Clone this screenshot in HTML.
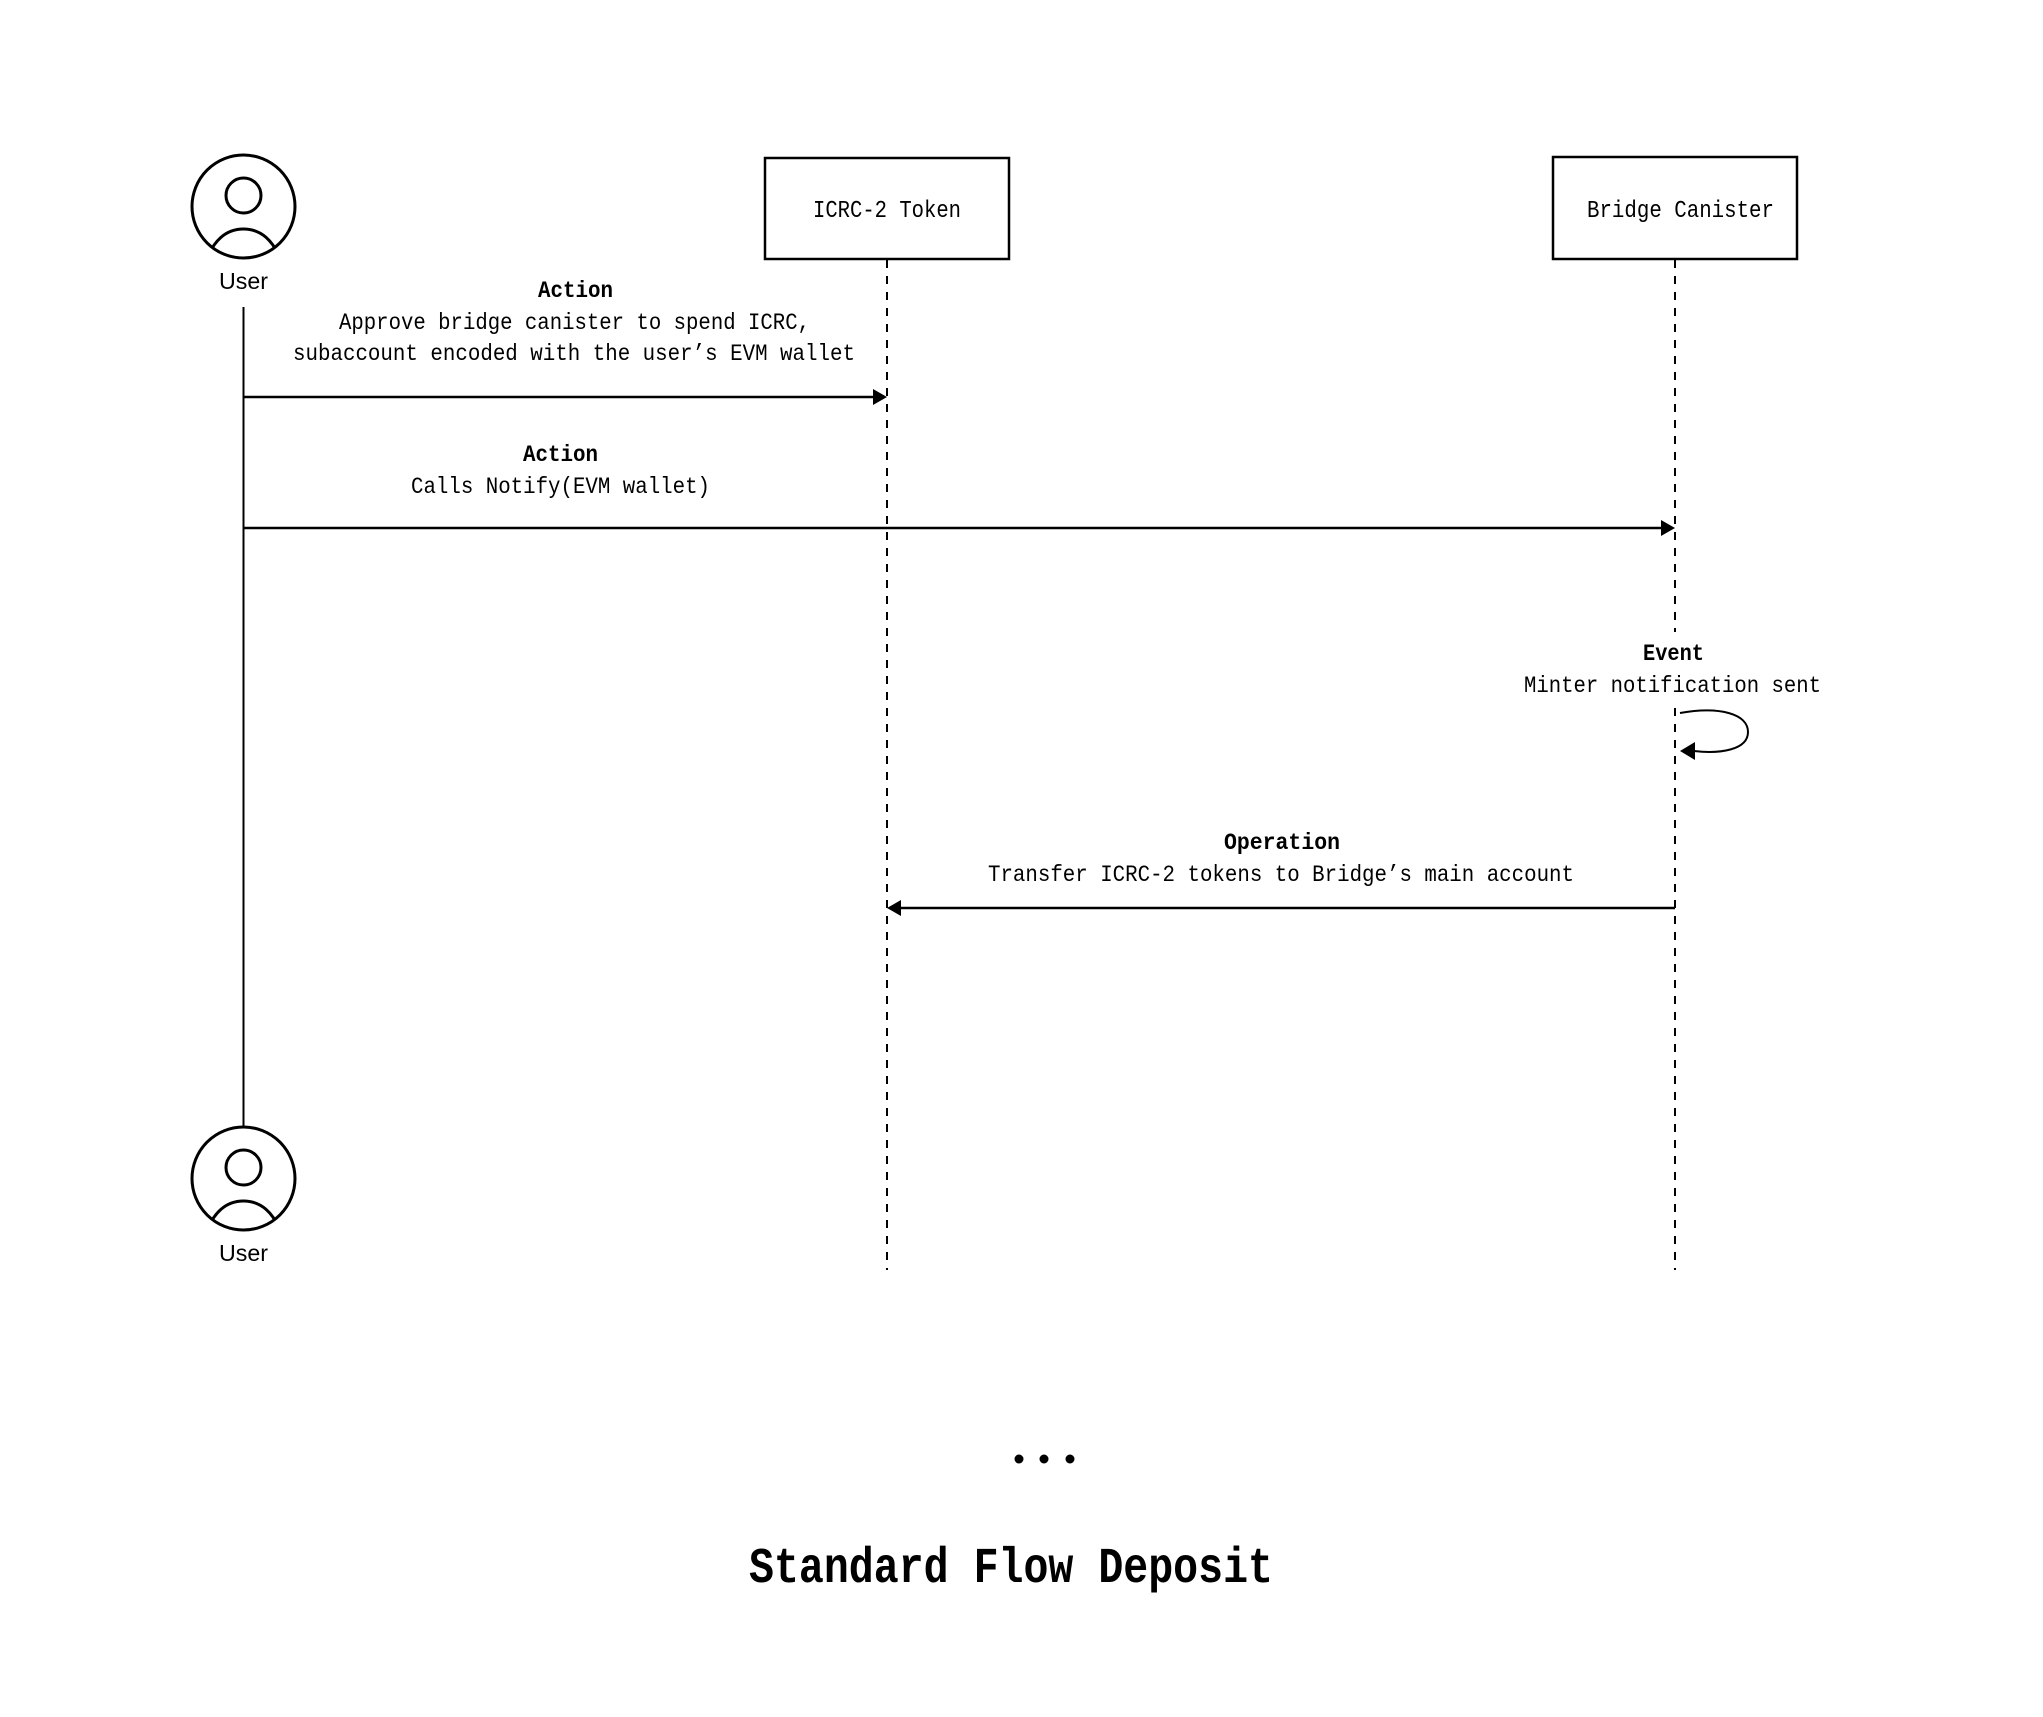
<!DOCTYPE html>
<html><head><meta charset="utf-8"><style>
html,body{margin:0;padding:0;background:#fff;}
svg{display:block;}
text{font-family:"Liberation Mono","DejaVu Sans Mono",monospace;fill:#000;}
.b{font-weight:bold;}
</style></head><body>
<svg width="2043" height="1717" viewBox="0 0 2043 1717" xmlns="http://www.w3.org/2000/svg">
<rect width="2043" height="1717" fill="#fff"/>
<defs>
<clipPath id="c1"><circle cx="243.5" cy="206.5" r="51.5"/></clipPath>
<clipPath id="c2"><circle cx="243.5" cy="1178.5" r="51.5"/></clipPath>
</defs>

<line x1="243.5" y1="307" x2="243.5" y2="1127" stroke="#000" stroke-width="2"/>
<line x1="887" y1="260" x2="887" y2="1270" stroke="#000" stroke-width="2" stroke-dasharray="8 8"/>
<line x1="1675" y1="260" x2="1675" y2="1270" stroke="#000" stroke-width="2" stroke-dasharray="8 8"/>
<rect x="1515" y="632" width="315" height="72" fill="#fff"/>

<circle cx="243.5" cy="206.5" r="51.5" fill="#fff" stroke="#000" stroke-width="3"/>
<circle cx="243.5" cy="195.5" r="17.5" fill="none" stroke="#000" stroke-width="3"/>
<path d="M205 262 C214 240 226 229 243.5 229 C261 229 273 240 282 262" fill="none" stroke="#000" stroke-width="3" clip-path="url(#c1)"/>
<text x="243.5" y="289" font-size="23" text-anchor="middle" textLength="49" lengthAdjust="spacingAndGlyphs" style="font-family:'Liberation Sans',sans-serif">User</text>

<circle cx="243.5" cy="1178.5" r="51.5" fill="#fff" stroke="#000" stroke-width="3"/>
<circle cx="243.5" cy="1167.5" r="17.5" fill="none" stroke="#000" stroke-width="3"/>
<path d="M205 1234 C214 1212 226 1201 243.5 1201 C261 1201 273 1212 282 1234" fill="none" stroke="#000" stroke-width="3" clip-path="url(#c2)"/>
<text x="243.5" y="1261" font-size="23" text-anchor="middle" textLength="49" lengthAdjust="spacingAndGlyphs" style="font-family:'Liberation Sans',sans-serif">User</text>

<rect x="765" y="158" width="244" height="101" fill="#fff" stroke="#000" stroke-width="2.5"/>
<text x="813" y="217" font-size="24" textLength="148" lengthAdjust="spacingAndGlyphs">ICRC-2 Token</text>
<rect x="1553" y="157" width="244" height="102" fill="#fff" stroke="#000" stroke-width="2.5"/>
<text x="1587" y="217" font-size="24" textLength="187" lengthAdjust="spacingAndGlyphs">Bridge Canister</text>

<text x="538" y="297" font-size="23" class="b" textLength="75" lengthAdjust="spacingAndGlyphs">Action</text>
<text x="339" y="329" font-size="23" textLength="471" lengthAdjust="spacingAndGlyphs">Approve bridge canister to spend ICRC,</text>
<text x="293" y="360" font-size="23" textLength="562" lengthAdjust="spacingAndGlyphs">subaccount encoded with the user’s EVM wallet</text>
<line x1="243.5" y1="397" x2="875" y2="397" stroke="#000" stroke-width="2.5"/>
<polygon points="887,397 873,389 873,405" fill="#000"/>

<text x="523" y="461" font-size="23" class="b" textLength="75" lengthAdjust="spacingAndGlyphs">Action</text>
<text x="411" y="493" font-size="23" textLength="299" lengthAdjust="spacingAndGlyphs">Calls Notify(EVM wallet)</text>
<line x1="243.5" y1="528" x2="1662" y2="528" stroke="#000" stroke-width="2.5"/>
<polygon points="1675,528 1661,520 1661,536" fill="#000"/>

<text x="1643" y="660" font-size="23" class="b" textLength="61" lengthAdjust="spacingAndGlyphs">Event</text>
<text x="1524" y="692" font-size="23" textLength="297" lengthAdjust="spacingAndGlyphs">Minter notification sent</text>
<path d="M1680 713 C1720 706 1748 714 1748 732 C1748 750 1720 754 1694 751" fill="none" stroke="#000" stroke-width="2"/>
<polygon points="1680,751 1695,742 1695,760" fill="#000"/>

<text x="1224" y="849" font-size="23" class="b" textLength="116" lengthAdjust="spacingAndGlyphs">Operation</text>
<text x="988" y="881" font-size="23" textLength="586" lengthAdjust="spacingAndGlyphs">Transfer ICRC-2 tokens to Bridge’s main account</text>
<line x1="900" y1="908" x2="1675" y2="908" stroke="#000" stroke-width="2.5"/>
<polygon points="887,908 901,900 901,916" fill="#000"/>

<circle cx="1019" cy="1459" r="4.5" fill="#000"/>
<circle cx="1044" cy="1459" r="4.5" fill="#000"/>
<circle cx="1070" cy="1459" r="4.5" fill="#000"/>
<text x="749" y="1582" font-size="50" class="b" textLength="524" lengthAdjust="spacingAndGlyphs">Standard Flow Deposit</text>
</svg>
</body></html>
